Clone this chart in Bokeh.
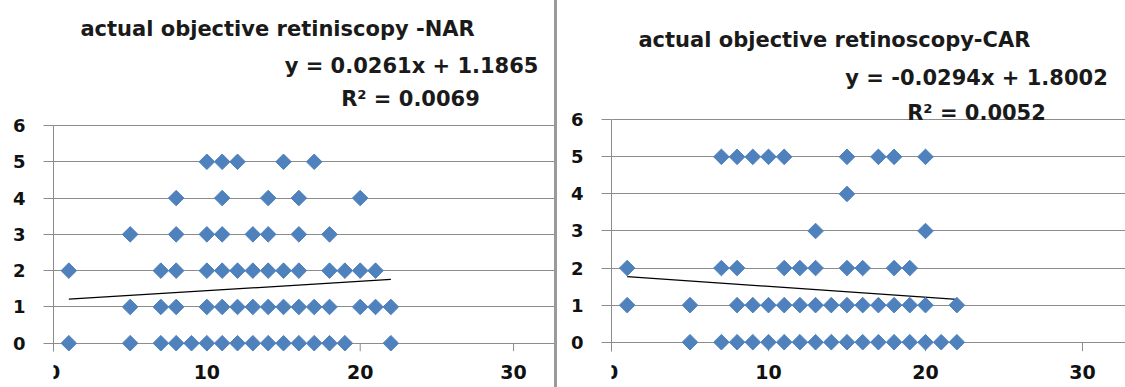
from bokeh.plotting import figure
from bokeh.models import Range1d, FixedTicker, Label, Div
from bokeh.core.properties import value
from bokeh.layouts import row
from bokeh.embed import file_html
from bokeh.resources import INLINE

# ---------------- data ----------------
nar_x = [10, 11, 12, 15, 17,
         8, 11, 14, 16, 20,
         5, 8, 10, 11, 13, 14, 16, 18,
         1, 7, 8, 10, 11, 12, 13, 14, 15, 16, 18, 19, 20, 21,
         5, 7, 8, 10, 11, 12, 13, 14, 15, 16, 17, 18, 20, 21, 22,
         1, 5, 7, 8, 9, 10, 11, 12, 13, 14, 15, 16, 17, 18, 19, 22]
nar_y = [5, 5, 5, 5, 5,
         4, 4, 4, 4, 4,
         3, 3, 3, 3, 3, 3, 3, 3,
         2, 2, 2, 2, 2, 2, 2, 2, 2, 2, 2, 2, 2, 2,
         1, 1, 1, 1, 1, 1, 1, 1, 1, 1, 1, 1, 1, 1, 1,
         0, 0, 0, 0, 0, 0, 0, 0, 0, 0, 0, 0, 0, 0, 0, 0]

car_x = [7, 8, 9, 10, 11, 15, 17, 18, 20,
         15,
         13, 20,
         1, 7, 8, 11, 12, 13, 15, 16, 18, 19,
         1, 5, 8, 9, 10, 11, 12, 13, 14, 15, 16, 17, 18, 19, 20, 22,
         5, 7, 8, 9, 10, 11, 12, 13, 14, 15, 16, 17, 18, 19, 20, 21, 22]
car_y = [5, 5, 5, 5, 5, 5, 5, 5, 5,
         4,
         3, 3,
         2, 2, 2, 2, 2, 2, 2, 2, 2, 2,
         1, 1, 1, 1, 1, 1, 1, 1, 1, 1, 1, 1, 1, 1, 1, 1,
         0, 0, 0, 0, 0, 0, 0, 0, 0, 0, 0, 0, 0, 0, 0, 0, 0]

nar_fit = [0.0261, 1.1865]     # slope, intercept
car_fit = [-0.0294, 1.8002]

titles = ["actual objective retiniscopy -NAR", "actual objective retinoscopy-CAR"]
equations = ["y = 0.0261x + 1.1865", "y = -0.0294x + 1.8002"]
r2_texts = ["R\u00b2 = 0.0069", "R\u00b2 = 0.0052"]

x_ticks = [0, 10, 20, 30]
x_tick_labels = ["0", "10", "20", "30"]
y_ticks = [0, 1, 2, 3, 4, 5, 6]

FONT = "DejaVu Sans"
GRID = "#8c8c8c"
BLUE = "#4f81bd"


def panel(xs, ys, fit, title, eq, r2, width, height, border_left,
          x_max, y_min, y_max, axis_bottom, xlab_y, txt_pos):
    p = figure(width=width, height=height, output_backend="svg",
               toolbar_location=None,
               x_range=Range1d(0, x_max), y_range=Range1d(y_min, y_max),
               min_border_left=border_left, min_border_right=0,
               min_border_top=0, min_border_bottom=0)
    p.outline_line_color = None
    p.background_fill_color = "white"
    p.border_fill_color = "white"
    p.xgrid.visible = False
    p.ygrid.grid_line_color = GRID
    p.ygrid.grid_line_width = 1
    p.ygrid.bounds = (0, 30)
    p.xaxis.visible = False

    # x axis: tick marks below the zero line and tick labels underneath
    p.segment(x0=x_ticks, y0=[0] * len(x_ticks), x1=x_ticks,
              y1=[axis_bottom] * len(x_ticks), line_color=GRID, line_width=1)
    p.text(x=x_ticks, y=[xlab_y] * len(x_ticks), text=x_tick_labels,
           text_font=value(FONT), text_font_style="bold",
           text_font_size="19px", text_color="#111111",
           text_align="center", text_baseline="middle")

    ya = p.yaxis[0]
    ya.ticker = FixedTicker(ticks=y_ticks)
    ya.bounds = (axis_bottom, 6)
    ya.axis_line_color = GRID
    ya.major_tick_line_color = GRID
    ya.major_tick_in = 0
    ya.major_tick_out = 10
    ya.minor_tick_line_color = None
    ya.major_label_text_font = FONT
    ya.major_label_text_font_style = "bold"
    ya.major_label_text_font_size = "18px"
    ya.major_label_text_color = "#111111"
    ya.major_label_standoff = 18

    # trend line over the data's x extent
    x0, x1 = min(xs), max(xs)
    p.line([x0, x1], [fit[0] * x0 + fit[1], fit[0] * x1 + fit[1]],
           line_color="black", line_width=1.2)

    p.scatter(xs, ys, marker="square", angle=0.785398, size=11,
              fill_color=BLUE, line_color=BLUE)

    (tx, ty, ts), (ex, ey, es), (rx, ry, rs) = txt_pos
    for txt, x, y, s in [(title, tx, ty, ts), (eq, ex, ey, es), (r2, rx, ry, rs)]:
        p.add_layout(Label(x=x, y=y, text=txt, text_font=FONT,
                           text_font_style="bold", text_font_size=s,
                           text_color="#1a1a1a", text_align="center",
                           text_baseline="alphabetic"))
    return p


H = 387
p1 = panel(nar_x, nar_y, nar_fit, titles[0], equations[0], r2_texts[0],
           554, H, 53, 32.67, -1.221, 9.446, -0.22, -0.80,
           [(14.61, 8.67, "21px"), (23.35, 7.63, "21px"), (23.28, 6.72, "21px")])
sep = Div(width=3, height=H, margin=(0, 0, 0, 0),
          styles={"background-color": "#9a9a9a"})
p2 = panel(car_x, car_y, car_fit, titles[1], equations[1], r2_texts[1],
           568, H, 54, 32.74, -1.222, 9.218, -0.243, -0.81,
           [(14.2, 8.14, "21px"), (23.25, 7.14, "21px"), (23.25, 6.19, "21px")])

layout = row(p1, sep, p2)
open("out.html", "w").write(file_html(layout, INLINE))
